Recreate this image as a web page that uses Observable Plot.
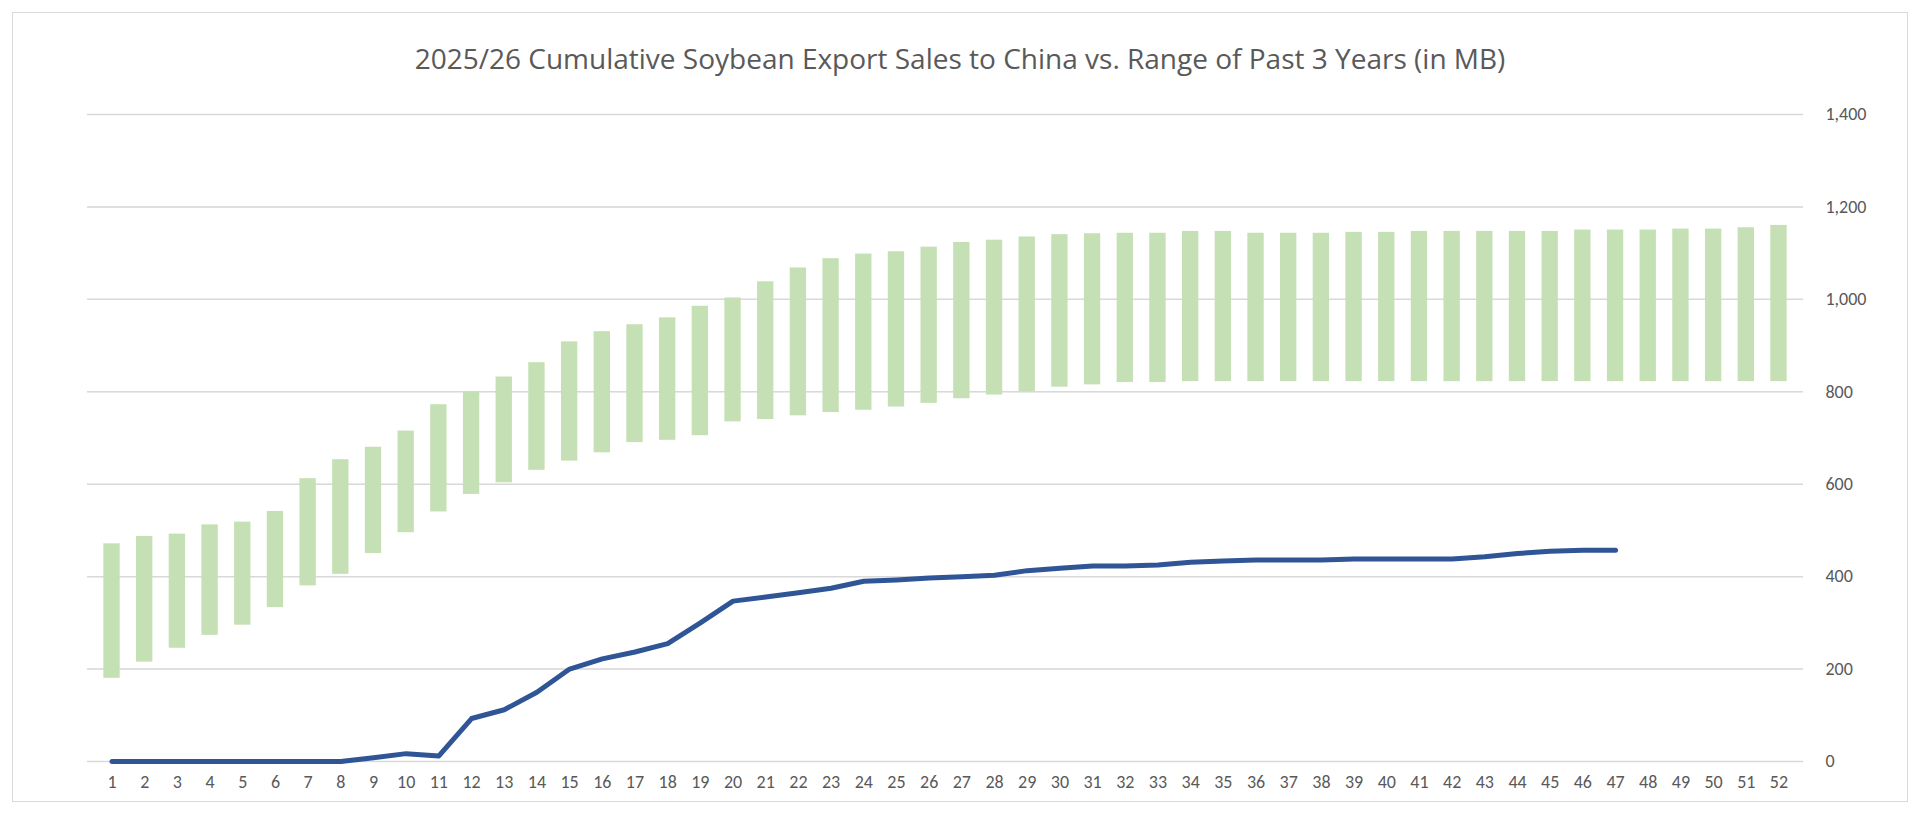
<!DOCTYPE html>
<html><head><meta charset="utf-8">
<script src="https://cdn.jsdelivr.net/npm/d3@7"></script>
<script src="https://cdn.jsdelivr.net/npm/@observablehq/plot@0.6"></script>
<style>
body{margin:0;background:#fff;font-family:Calibri,"Liberation Sans","Open Sans",sans-serif;}
#frame{position:absolute;left:12px;top:12px;width:1894px;height:788px;border:1.5px solid #d9d9d9;}
#title{position:absolute;left:0;top:26px;width:1894px;text-align:center;font-size:28px;color:#595959;font-family:"Open Sans",sans-serif;}
#chart{position:absolute;left:0;top:58px;}
</style></head><body>
<div id="frame"><div id="title">2025/26 Cumulative Soybean Export Sales to China vs. Range of Past 3 Years (in MB)</div><div id="chart"></div></div>
<script>
const weeks = d3.range(1,53);
const rangeLow = [180,215,245,273,295,333,380,405,450,495,540,578,603,630,650,668,690,695,705,735,740,748,755,760,767,775,785,793,800,810,815,820,820,822,822,822,822,822,822,822,822,822,822,822,822,822,822,822,822,822,822,822];
const rangeHigh = [471,487,492,512,518,541,612,653,680,715,772,800,832,863,908,930,945,960,985,1003,1038,1068,1088,1098,1103,1113,1123,1128,1135,1140,1142,1143,1143,1147,1147,1143,1143,1143,1145,1145,1147,1147,1147,1147,1147,1150,1150,1150,1152,1152,1155,1160];
const sales2526 = [0,0,0,0,0,0,0,0,8,17,12,93,112,150,200,222,237,255,300,347,356,365,375,390,393,397,400,403,413,418,423,423,425,431,434,436,436,436,438,438,438,438,443,450,455,457,457];
const bars = weeks.map((w,i)=>({w,lo:rangeLow[i],hi:rangeHigh[i]}));
const line = sales2526.map((v,i)=>({w:i+1,v}));
const chart = Plot.plot({
  width:1894, height:740, marginLeft:74, marginRight:104, marginTop:43, marginBottom:50,
  style:{fontSize:"18px",color:"#595959",fontFamily:"Calibri,'Open Sans',sans-serif"},
  x:{type:"band",domain:weeks,padding:0.5,label:null,tickSize:0,tickPadding:14},
  y:{domain:[0,1400],ticks:d3.range(0,1401,200),label:null,axis:"right",tickSize:0,tickPadding:22,grid:true},
  marks:[
    Plot.gridY(d3.range(0,1401,200),{stroke:"#d9d9d9",strokeOpacity:1,strokeWidth:1.5}),
    Plot.barY(bars,{x:"w",y1:"lo",y2:"hi",fill:"#c5e0b4"}),
    Plot.line(line,{x:"w",y:"v",stroke:"#2f5597",strokeWidth:5,strokeLinejoin:"round"})
  ]
});
document.getElementById("chart").appendChild(chart);
</script></body></html>
